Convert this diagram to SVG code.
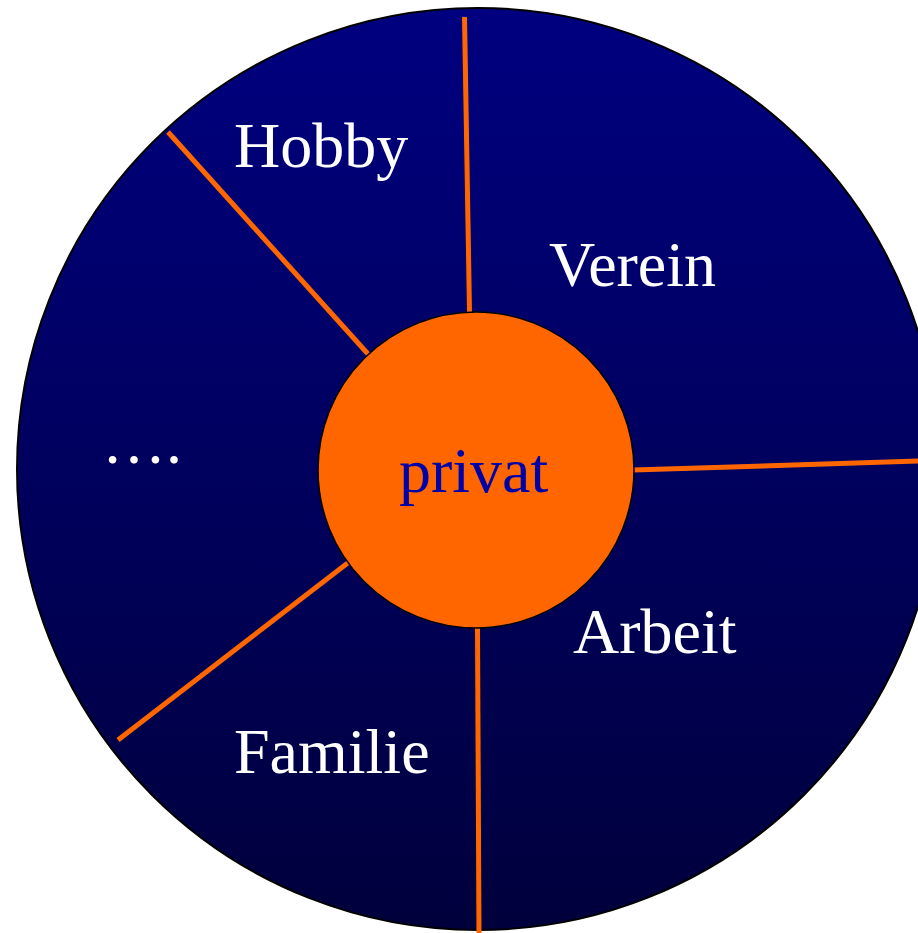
<svg xmlns="http://www.w3.org/2000/svg" width="918" height="933" viewBox="0 0 918 933">
<defs>
<linearGradient id="bg" x1="0" y1="0" x2="0" y2="1">
<stop offset="0" stop-color="#000080"/>
<stop offset="1" stop-color="#00003c"/>
</linearGradient>
<style>
.lbl{font-family:"Liberation Serif","Times New Roman",serif;font-size:64px;fill:#ffffff}
.ctr{font-family:"Liberation Serif","Times New Roman",serif;font-size:64px;fill:#0000a8}
.spoke{stroke:#ff6600;stroke-width:5;fill:none}
</style>
</defs>
<g id="outer">
<circle cx="478" cy="469" r="461" fill="url(#bg)" stroke="#000000" stroke-width="2"/>
</g>
<g id="connectors">
<line class="spoke" x1="464.5" y1="17" x2="469.5" y2="312"/>
<line class="spoke" x1="633" y1="470" x2="920" y2="461"/>
<line class="spoke" x1="477.5" y1="628" x2="479" y2="935"/>
<line class="spoke" x1="349" y1="562" x2="118" y2="740"/>
<line class="spoke" x1="368" y1="354" x2="168" y2="132"/>
</g>
<g id="center">
<circle cx="476" cy="470" r="158" fill="#ff6600" stroke="#000000" stroke-width="1.5"/>
<text class="ctr" x="399" y="492">privat</text>
</g>
<g id="hobby"><text class="lbl" x="234" y="167">Hobby</text></g>
<g id="verein"><text class="lbl" x="549" y="286">Verein</text></g>
<g id="arbeit"><text class="lbl" x="573" y="653">Arbeit</text></g>
<g id="familie"><text class="lbl" x="234" y="773">Familie</text></g>
<g id="more"><text class="lbl" x="102" y="463">….</text></g>
</svg>
